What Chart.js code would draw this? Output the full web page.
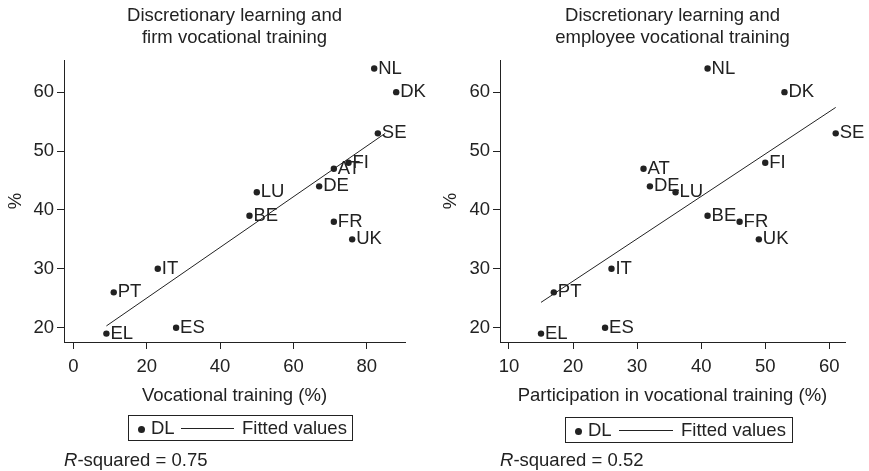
<!DOCTYPE html>
<html>
<head>
<meta charset="utf-8">
<script src="https://cdn.jsdelivr.net/npm/chart.js@4.4.1/dist/chart.umd.min.js"></script>
<style>
  html, body { margin: 0; padding: 0; background: #fff; }
  body { width: 869px; height: 471px; position: relative; overflow: hidden;
         font-family: "Liberation Sans", Arial, Helvetica, sans-serif; color: #222; }
  .panel { position: absolute; top: 0; height: 471px; }
  #panelFirm { left: 0; width: 435px; }
  #panelEmployee { left: 435px; width: 434px; }
  .panel canvas { position: absolute; left: 0; top: 0; }
  .legend { position: absolute; border: 1px solid #222; box-sizing: border-box; height: 26px; font-size: 18.5px; }
  .legend .txt { position: absolute; top: 0; line-height: 24px; white-space: nowrap; }
  .legend .dot { position: absolute; top: 10px; width: 7px; height: 7px; border-radius: 50%; background: #222; }
  .legend .ln { position: absolute; top: 12px; height: 0; border-top: 1px solid #222; }
  .rsq { position: absolute; font-size: 18.5px; white-space: nowrap; line-height: 22px; }
</style>
</head>
<body>
<div class="panel" id="panelFirm">
  <canvas id="chartFirm" width="435" height="471"></canvas>
  <div class="legend" style="left:128px; top:415px; width:225px;">
    <span class="dot" style="left:9px;"></span>
    <span class="txt" style="left:22px;">DL</span>
    <span class="ln" style="left:52px; width:53px;"></span>
    <span class="txt" style="left:113px;">Fitted values</span>
  </div>
  <div class="rsq" style="left:64px; top:449px;"><i>R</i>-squared = 0.75</div>
</div>
<div class="panel" id="panelEmployee">
  <canvas id="chartEmployee" width="434" height="471"></canvas>
  <div class="legend" style="left:130px; top:417px; width:228px;">
    <span class="dot" style="left:9px;"></span>
    <span class="txt" style="left:22px;">DL</span>
    <span class="ln" style="left:53px; width:54px;"></span>
    <span class="txt" style="left:115px;">Fitted values</span>
  </div>
  <div class="rsq" style="left:65px; top:449px;"><i>R</i>-squared = 0.52</div>
</div>

<script>
// Country codes and discretionary learning share (%)
const countries = ['NL', 'DK', 'SE', 'FI', 'AT', 'DE', 'LU', 'BE', 'FR', 'UK', 'IT', 'PT', 'EL', 'ES'];
const discretionaryLearning = [64, 60, 53, 48, 47, 44, 43, 39, 38, 35, 30, 26, 19, 20];

// Firm vocational training (%)
const firmTraining = [82, 88, 83, 75, 71, 67, 50, 48, 71, 76, 23, 11, 9, 28];
// Participation in vocational training (%)
const employeeTraining = [41, 53, 61, 50, 31, 32, 36, 41, 46, 49, 26, 17, 15, 25];

// Fitted regression lines (end points)
const firmFitX = [9, 85];
const firmFitY = [20.3, 53.0];
const employeeFitX = [15, 61];
const employeeFitY = [24.3, 57.4];

// Tick labels
const firmXTicks = [0, 20, 40, 60, 80];
const employeeXTicks = [10, 20, 30, 40, 50, 60];
const yTicks = [20, 30, 40, 50, 60];

const INK = '#222';
const FONT = '"Liberation Sans", Arial, Helvetica, sans-serif';
const SIZE = 18.5;

// Country code drawn to the right of each marker
const pointLabels = {
  id: 'pointLabels',
  afterDatasetsDraw(chart) {
    const meta = chart.getDatasetMeta(0);
    const ctx = chart.ctx;
    ctx.save();
    ctx.font = SIZE + 'px ' + FONT;
    ctx.fillStyle = INK;
    ctx.textAlign = 'left';
    ctx.textBaseline = 'middle';
    meta.data.forEach((pt, i) => ctx.fillText(countries[i], pt.x + 4, pt.y));
    ctx.restore();
  }
};

function axisCommon(ticks, pad) {
  return {
    afterBuildTicks: (scale) => { scale.ticks = ticks.map(v => ({ value: v })); },
    grid: { display: true, drawOnChartArea: false, drawTicks: true, tickLength: 7, color: INK, lineWidth: 1 },
    border: { display: true, color: INK, width: 1 },
    ticks: { color: INK, font: { family: FONT, size: SIZE }, padding: pad, maxRotation: 0, autoSkip: false }
  };
}

function makePanel(id, xValues, fitX, fitY, xTicks, xMin, xMax, titleLines, xTitle, yWidth, rightPad) {
  const points = xValues.map((x, i) => ({ x: x, y: discretionaryLearning[i] }));
  const fit = fitX.map((x, i) => ({ x: x, y: fitY[i] }));
  const xAxis = axisCommon(xTicks, 7);
  xAxis.type = 'linear';
  xAxis.position = 'bottom';
  xAxis.min = xMin;
  xAxis.max = xMax;
  xAxis.afterFit = (scale) => { scale.height = 64; };
  xAxis.title = { display: true, text: xTitle, color: INK, font: { family: FONT, size: SIZE, lineHeight: 1.19 }, padding: { top: 0, bottom: -1 } };

  const yAxis = axisCommon(yTicks, 3);
  yAxis.type = 'linear';
  yAxis.position = 'left';
  yAxis.min = 17.57;
  yAxis.max = 65.45;
  yAxis.afterFit = (scale) => { scale.width = yWidth; };
  yAxis.title = { display: true, text: '%', color: INK, font: { family: FONT, size: SIZE, lineHeight: 1.19 }, padding: { top: 5, bottom: 0 } };

  return new Chart(document.getElementById(id), {
    type: 'scatter',
    data: {
      datasets: [
        { label: 'DL', data: points, backgroundColor: INK, borderColor: INK, pointRadius: 3.2, pointBorderWidth: 0, showLine: false },
        { label: 'Fitted values', type: 'line', data: fit, borderColor: INK, borderWidth: 1, pointRadius: 0, fill: false, tension: 0 }
      ]
    },
    options: {
      responsive: false,
      animation: false,
      devicePixelRatio: 1,
      layout: { padding: { top: 5, left: 0, right: rightPad, bottom: 65 } },
      plugins: {
        legend: { display: false },
        tooltip: { enabled: false },
        title: {
          display: true, text: titleLines, color: INK, fullSize: false,
          font: { family: FONT, size: SIZE, weight: 'normal', lineHeight: 1.19 },
          padding: { top: 0, bottom: 11 }
        }
      },
      scales: { x: xAxis, y: yAxis }
    },
    plugins: [pointLabels]
  });
}

makePanel('chartFirm', firmTraining, firmFitX, firmFitY, firmXTicks, -2.56, 90.4,
  ['Discretionary learning and', 'firm vocational training'], 'Vocational training (%)', 64, 30);
makePanel('chartEmployee', employeeTraining, employeeFitX, employeeFitY, employeeXTicks, 8.6, 62.45,
  ['Discretionary learning and', 'employee vocational training'], 'Participation in vocational training (%)', 65, 24);
</script>
</body>
</html>
